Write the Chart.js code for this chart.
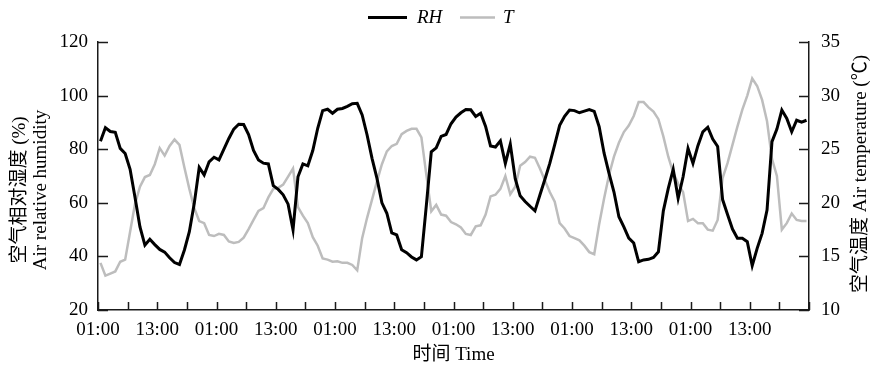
<!DOCTYPE html>
<html>
<head>
<meta charset="utf-8">
<script src="https://cdn.jsdelivr.net/npm/chart.js@4.4.1/dist/chart.umd.min.js"></script>
<style>
  html, body { margin: 0; padding: 0; background: #fff; }
  #wrap { width: 871px; height: 368px; }
</style>
</head>
<body>
<div id="wrap"><canvas id="chart" width="871" height="368"></canvas></div>
<script>
// x tick labels, one every 12 hours starting at 01:00
const xTickLabels = ['01:00', '13:00', '01:00', '13:00', '01:00', '13:00',
                     '01:00', '13:00', '01:00', '13:00', '01:00', '13:00'];

// hourly relative humidity (%)
const rhValues = [
  83, 88, 86.6, 86.3, 80.3, 78.4, 72.5, 62, 51, 44.2,
  46.4, 44.4, 42.6, 41.6, 39.5, 37.7, 37, 42.4, 49.2, 59.8,
  73.2, 70.4, 75.3, 77, 76, 80, 84, 87.5, 89.3, 89.2,
  85.5, 79.5, 76, 74.8, 74.5, 66.4, 65, 63, 59.5, 49.9,
  69.7, 74.5, 73.8, 79.5, 87.8, 94.4, 94.9, 93.4, 94.9, 95.2,
  96, 97, 97.1, 92.8, 85.3, 76.6, 69.1, 60, 56.1, 48.8,
  48, 42.5, 41.4, 39.8, 38.7, 39.9, 59, 79, 80.5, 84.8,
  85.5, 89.5, 92, 93.6, 94.8, 94.7, 92.2, 93.4, 88.5, 81.2,
  80.8, 83.1, 74.7, 81.9, 69, 62.6, 60.5, 58.7, 57, 62.9,
  68.7, 74.7, 81.7, 88.9, 92.3, 94.6, 94.4, 93.6, 94.2, 94.8,
  94.1, 88.4, 78.5, 71, 64, 54.8, 51, 46.8, 45, 38,
  38.7, 38.9, 39.6, 41.7, 57, 65.4, 72.5, 61.7, 69.7, 80.3,
  74.7, 81.3, 86.5, 88.2, 83.8, 81, 61.2, 55.6, 50.2, 46.8,
  46.8, 45.5, 36.5, 43, 48.6, 57.3, 82.8, 87.5, 94.6, 91.5,
  86.5, 90.8, 90.1, 90.8
];

// hourly air temperature (°C)
const tempValues = [
  14.4, 13.2, 13.4, 13.6, 14.5, 14.7, 17.3, 19.9, 21.5, 22.4,
  22.6, 23.6, 25.1, 24.4, 25.3, 25.9, 25.4, 23.3, 21.3, 19.5,
  18.3, 18.1, 17, 16.9, 17.1, 17, 16.4, 16.25, 16.35, 16.75,
  17.55, 18.4, 19.25, 19.5, 20.5, 21.3, 21.4, 21.7, 22.45, 23.2,
  19.6, 18.8, 18.1, 16.8, 16, 14.8, 14.7, 14.5, 14.55, 14.4,
  14.4, 14.2, 13.7, 16.7, 18.6, 20.3, 22, 23.6, 24.8, 25.3,
  25.5, 26.4, 26.7, 26.9, 26.9, 26.1, 22.6, 19.2, 19.8, 18.9,
  18.8, 18.2, 18, 17.7, 17.1, 17, 17.8, 17.9, 18.9, 20.6,
  20.75, 21.3, 22.5, 20.8, 21.5, 23.45, 23.8, 24.3, 24.2, 23.2,
  22.1, 21, 20.1, 18.1, 17.6, 16.9, 16.7, 16.5, 16, 15.4,
  15.2, 18, 20.4, 22.6, 24.3, 25.6, 26.6, 27.2, 28.1, 29.4,
  29.4, 28.9, 28.5, 27.8, 26.2, 24.3, 22.8, 21.8, 21, 18.3,
  18.5, 18.1, 18.1, 17.5, 17.4, 18.4, 22.3, 23.7, 25.4, 27.1,
  28.7, 30, 31.6, 30.9, 29.6, 27.6, 24.1, 22.5, 17.5, 18.1,
  19, 18.4, 18.3, 18.3
];

const FONT = "'Liberation Serif', 'Noto Sans CJK SC', serif";
const AXIS_COLOR = '#1a1a1a';
const RH_COLOR = '#000000';
const T_COLOR = '#bdbdbd';

// each value is an hourly mean, drawn at the middle of its hour
const toPoints = arr => arr.map((v, i) => ({ x: i + 0.5, y: v }));

// tick marks pointing into the plot, like the original figure
const inwardTicks = {
  id: 'inwardTicks',
  afterDatasetsDraw(chart) {
    const ctx = chart.ctx;
    const { x, y, y1 } = chart.scales;
    ctx.save();
    ctx.strokeStyle = AXIS_COLOR;
    ctx.lineWidth = 1.5;
    ctx.beginPath();
    x.ticks.forEach(t => {
      const px = Math.round(x.getPixelForValue(t.value)) + 0.5;
      ctx.moveTo(px, x.top);
      ctx.lineTo(px, x.top - 8);
    });
    y.ticks.forEach(t => {
      const py = Math.round(y.getPixelForValue(t.value)) + 0.5;
      ctx.moveTo(y.right, py);
      ctx.lineTo(y.right + 10, py);
    });
    y1.ticks.forEach(t => {
      const py = Math.round(y1.getPixelForValue(t.value)) + 0.5;
      ctx.moveTo(y1.left, py);
      ctx.lineTo(y1.left - 10, py);
    });
    ctx.stroke();
    ctx.restore();
  }
};

// axis titles and the legend
const annotations = {
  id: 'annotations',
  afterDraw(chart) {
    const ctx = chart.ctx;
    const area = chart.chartArea;
    ctx.save();
    ctx.fillStyle = '#000';
    ctx.textAlign = 'center';
    ctx.textBaseline = 'middle';
    ctx.font = '19px ' + FONT;

    // x title
    ctx.fillText('时间 Time', (area.left + area.right) / 2 + 0, 355);

    // left title (two lines)
    const leftMid = 190;
    ctx.save();
    ctx.translate(20, leftMid);
    ctx.rotate(-Math.PI / 2);
    ctx.fillText('空气相对湿度 (%)', 0, 0);
    ctx.restore();
    ctx.save();
    ctx.translate(41, leftMid);
    ctx.rotate(-Math.PI / 2);
    ctx.fillText('Air relative humidity', 0, 0);
    ctx.restore();

    // right title, reading bottom to top
    ctx.save();
    ctx.translate(861, 174);
    ctx.rotate(-Math.PI / 2);
    ctx.fillText('空气温度 Air temperature (℃)', 0, 0);
    ctx.restore();

    // legend
    const ds = chart.data.datasets;
    const items = [
      { x0: 368, x1: 407, tx: 417, d: ds[0] },
      { x0: 460, x1: 495, tx: 503, d: ds[1] }
    ];
    ctx.textAlign = 'left';
    ctx.font = 'italic 19px ' + FONT;
    items.forEach(it => {
      ctx.strokeStyle = it.d.borderColor;
      ctx.lineWidth = it.d.borderWidth;
      ctx.beginPath();
      ctx.moveTo(it.x0, 17.5);
      ctx.lineTo(it.x1, 17.5);
      ctx.stroke();
      ctx.fillText(it.d.label, it.tx, 18);
    });
    ctx.restore();
  }
};

const tickFont = { family: FONT, size: 19 };

new Chart(document.getElementById('chart'), {
  type: 'line',
  data: {
    datasets: [
      {
        label: 'RH',
        data: toPoints(rhValues),
        yAxisID: 'y',
        borderColor: RH_COLOR,
        borderWidth: 3,
        pointRadius: 0,
        tension: 0,
        order: 1
      },
      {
        label: 'T',
        data: toPoints(tempValues),
        yAxisID: 'y1',
        borderColor: T_COLOR,
        borderWidth: 2.5,
        pointRadius: 0,
        tension: 0,
        order: 2
      }
    ]
  },
  options: {
    responsive: false,
    animation: false,
    devicePixelRatio: 1,
    layout: { padding: { top: 42, left: 0, right: 0, bottom: 0 } },
    plugins: {
      legend: { display: false },
      tooltip: { enabled: false }
    },
    scales: {
      x: {
        type: 'linear',
        min: 0,
        max: 144,
        grid: { display: true, drawOnChartArea: false, drawTicks: false },
        border: { display: true, color: AXIS_COLOR, width: 1.5 },
        afterFit(scale) { scale.height = 58; },
        afterBuildTicks(scale) {
          const t = [];
          for (let v = 0; v <= 144; v += 6) t.push({ value: v });
          scale.ticks = t;
        },
        ticks: {
          autoSkip: false,
          maxRotation: 0,
          padding: 9,
          color: '#000',
          font: tickFont,
          callback: v => (v % 12 === 0 && v / 12 < xTickLabels.length) ? xTickLabels[v / 12] : ''
        }
      },
      y: {
        position: 'left',
        min: 20,
        max: 120,
        grid: { display: true, drawOnChartArea: false, drawTicks: false },
        border: { display: true, color: AXIS_COLOR, width: 1.5 },
        afterFit(scale) { scale.width = 98; },
        ticks: { stepSize: 20, padding: 10, color: '#000', font: tickFont }
      },
      y1: {
        position: 'right',
        min: 10,
        max: 35,
        grid: { display: true, drawOnChartArea: false, drawTicks: false },
        border: { display: true, color: AXIS_COLOR, width: 1.5 },
        afterFit(scale) { scale.width = 62; },
        ticks: { stepSize: 5, padding: 12, color: '#000', font: tickFont }
      }
    }
  },
  plugins: [inwardTicks, annotations]
});
</script>
</body>
</html>
